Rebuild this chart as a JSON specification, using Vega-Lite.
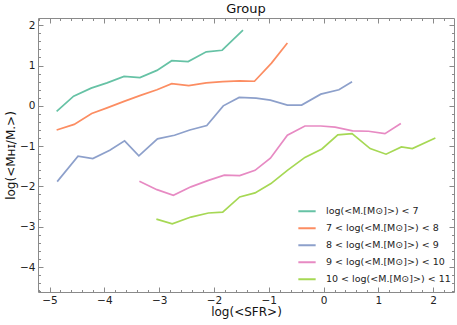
{
  "$schema": "https://vega.github.io/schema/vega-lite/v6.json",
  "width": 416,
  "height": 274,
  "autosize": {"type": "none"},
  "padding": {"left": 38, "top": 18, "right": 3, "bottom": 33},
  "background": "white",
  "config": {
    "view": {"stroke": "#8a8a8a", "strokeWidth": 1},
    "font": "DejaVu Sans",
    "axis": {"grid": false, "domain": false, "tickColor": "#8a8a8a", "labelColor": "#222", "labelFont": "DejaVu Sans", "labelFontSize": 10.5, "titleFont": "DejaVu Sans", "titleFontSize": 12, "titleFontWeight": "normal", "titleColor": "#111", "labelOverlap": false, "labelFlush": false}
  },
  "title": {"text": "Group", "fontSize": 13, "fontWeight": "normal", "font": "DejaVu Sans", "color": "#111", "offset": 2},
  "data": {"values": [
    {"s": "a", "x": -4.87, "y": -0.14}, {"s": "a", "x": -4.56, "y": 0.24}, {"s": "a", "x": -4.24, "y": 0.44}, {"s": "a", "x": -3.95, "y": 0.57}, {"s": "a", "x": -3.64, "y": 0.73}, {"s": "a", "x": -3.35, "y": 0.70}, {"s": "a", "x": -3.04, "y": 0.88}, {"s": "a", "x": -2.77, "y": 1.12}, {"s": "a", "x": -2.47, "y": 1.10}, {"s": "a", "x": -2.14, "y": 1.34}, {"s": "a", "x": -1.85, "y": 1.38}, {"s": "a", "x": -1.47, "y": 1.88},
    {"s": "b", "x": -4.87, "y": -0.60}, {"s": "b", "x": -4.55, "y": -0.46}, {"s": "b", "x": -4.23, "y": -0.19}, {"s": "b", "x": -3.95, "y": -0.05}, {"s": "b", "x": -3.64, "y": 0.11}, {"s": "b", "x": -3.34, "y": 0.26}, {"s": "b", "x": -3.04, "y": 0.40}, {"s": "b", "x": -2.77, "y": 0.55}, {"s": "b", "x": -2.46, "y": 0.50}, {"s": "b", "x": -2.14, "y": 0.57}, {"s": "b", "x": -1.84, "y": 0.60}, {"s": "b", "x": -1.53, "y": 0.62}, {"s": "b", "x": -1.26, "y": 0.61}, {"s": "b", "x": -0.95, "y": 1.06}, {"s": "b", "x": -0.66, "y": 1.56},
    {"s": "c", "x": -4.86, "y": -1.88}, {"s": "c", "x": -4.48, "y": -1.25}, {"s": "c", "x": -4.21, "y": -1.31}, {"s": "c", "x": -3.90, "y": -1.10}, {"s": "c", "x": -3.63, "y": -0.87}, {"s": "c", "x": -3.37, "y": -1.24}, {"s": "c", "x": -3.03, "y": -0.82}, {"s": "c", "x": -2.72, "y": -0.73}, {"s": "c", "x": -2.44, "y": -0.60}, {"s": "c", "x": -2.13, "y": -0.49}, {"s": "c", "x": -1.83, "y": 0.00}, {"s": "c", "x": -1.54, "y": 0.21}, {"s": "c", "x": -1.23, "y": 0.19}, {"s": "c", "x": -0.97, "y": 0.14}, {"s": "c", "x": -0.66, "y": 0.02}, {"s": "c", "x": -0.40, "y": 0.02}, {"s": "c", "x": -0.05, "y": 0.29}, {"s": "c", "x": 0.28, "y": 0.40}, {"s": "c", "x": 0.52, "y": 0.60},
    {"s": "d", "x": -3.36, "y": -1.87}, {"s": "d", "x": -3.04, "y": -2.08}, {"s": "d", "x": -2.74, "y": -2.22}, {"s": "d", "x": -2.42, "y": -2.01}, {"s": "d", "x": -2.10, "y": -1.85}, {"s": "d", "x": -1.81, "y": -1.72}, {"s": "d", "x": -1.53, "y": -1.73}, {"s": "d", "x": -1.25, "y": -1.60}, {"s": "d", "x": -0.97, "y": -1.30}, {"s": "d", "x": -0.66, "y": -0.73}, {"s": "d", "x": -0.34, "y": -0.50}, {"s": "d", "x": -0.05, "y": -0.50}, {"s": "d", "x": 0.21, "y": -0.53}, {"s": "d", "x": 0.53, "y": -0.62}, {"s": "d", "x": 0.82, "y": -0.63}, {"s": "d", "x": 1.12, "y": -0.69}, {"s": "d", "x": 1.41, "y": -0.44},
    {"s": "e", "x": -3.05, "y": -2.81}, {"s": "e", "x": -2.76, "y": -2.93}, {"s": "e", "x": -2.42, "y": -2.76}, {"s": "e", "x": -2.10, "y": -2.66}, {"s": "e", "x": -1.84, "y": -2.64}, {"s": "e", "x": -1.53, "y": -2.26}, {"s": "e", "x": -1.25, "y": -2.16}, {"s": "e", "x": -0.96, "y": -1.93}, {"s": "e", "x": -0.66, "y": -1.60}, {"s": "e", "x": -0.34, "y": -1.28}, {"s": "e", "x": -0.03, "y": -1.07}, {"s": "e", "x": 0.26, "y": -0.72}, {"s": "e", "x": 0.52, "y": -0.69}, {"s": "e", "x": 0.85, "y": -1.06}, {"s": "e", "x": 1.14, "y": -1.20}, {"s": "e", "x": 1.42, "y": -1.02}, {"s": "e", "x": 1.62, "y": -1.06}, {"s": "e", "x": 2.04, "y": -0.80}
  ]},
  "layer": [
    {
      "mark": {"type": "line", "strokeWidth": 1.7},
      "encoding": {
        "x": {"field": "x", "type": "quantitative", "scale": {"domain": [-5.21, 2.38], "nice": false, "zero": false},
          "axis": {"orient": "bottom", "title": "log(<SFR>)", "titlePadding": 1, "values": [-5, -4, -3, -2, -1, 0, 1, 2], "tickSize": -5, "labelPadding": 8}},
        "y": {"field": "y", "type": "quantitative", "scale": {"domain": [-4.62, 2.18], "nice": false, "zero": false},
          "axis": {"orient": "left", "title": "log(<Mʜɪ/M.>)", "titlePadding": 2, "values": [-4, -3, -2, -1, 0, 1, 2], "tickSize": -5, "labelPadding": 8}},
        "color": {"field": "s", "type": "nominal",
          "scale": {"domain": ["a", "b", "c", "d", "e"], "range": ["#66c2a5", "#fc8d62", "#8da0cb", "#e78ac3", "#a6d854"]},
          "legend": {"orient": "none", "legendX": 259, "legendY": 185, "title": null,
            "symbolType": "stroke", "symbolSize": 300, "symbolStrokeWidth": 2, "labelFontSize": 9.5, "labelFont": "DejaVu Sans", "labelColor": "#222", "labelOffset": 9, "labelLimit": 300, "clipHeight": 16.5, "rowPadding": 0,
            "labelExpr": "datum.value == 'a' ? ' log(<M.[M⊙]>) < 7' : datum.value == 'b' ? '7 < log(<M.[M⊙]>) < 8' : datum.value == 'c' ? '8 < log(<M.[M⊙]>) < 9' : datum.value == 'd' ? '9 < log(<M.[M⊙]>) < 10' : '10 < log(<M.[M⊙]>) < 11'"}}
      }
    },
    {
      "mark": {"type": "line", "strokeOpacity": 0},
      "encoding": {
        "x": {"field": "x", "type": "quantitative", "axis": {"orient": "top", "title": null, "labels": false, "values": [-5, -4, -3, -2, -1, 0, 1, 2], "tickSize": -5}},
        "y": {"field": "y", "type": "quantitative", "axis": {"orient": "right", "title": null, "labels": false, "values": [-4, -3, -2, -1, 0, 1, 2], "tickSize": -5}},
        "detail": {"field": "s", "type": "nominal"}
      }
    },
    {
      "mark": {"type": "line", "strokeOpacity": 0},
      "encoding": {
        "x": {"field": "x", "type": "quantitative", "axis": {"orient": "bottom", "title": null, "labels": false, "values": [-5.2,-4.8,-4.6,-4.4,-4.2,-3.8,-3.6,-3.4,-3.2,-2.8,-2.6,-2.4,-2.2,-1.8,-1.6,-1.4,-1.2,-0.8,-0.6,-0.4,-0.2,0.2,0.4,0.6,0.8,1.2,1.4,1.6,1.8,2.2], "tickSize": -2.5}},
        "y": {"field": "y", "type": "quantitative", "axis": {"orient": "left", "title": null, "labels": false, "values": [-4.6,-4.4,-4.2,-3.8,-3.6,-3.4,-3.2,-2.8,-2.6,-2.4,-2.2,-1.8,-1.6,-1.4,-1.2,-0.8,-0.6,-0.4,-0.2,0.2,0.4,0.6,0.8,1.2,1.4,1.6,1.8], "tickSize": -2.5}},
        "detail": {"field": "s", "type": "nominal"}
      }
    },
    {
      "mark": {"type": "line", "strokeOpacity": 0},
      "encoding": {
        "x": {"field": "x", "type": "quantitative", "axis": {"orient": "top", "title": null, "labels": false, "values": [-5.2,-4.8,-4.6,-4.4,-4.2,-3.8,-3.6,-3.4,-3.2,-2.8,-2.6,-2.4,-2.2,-1.8,-1.6,-1.4,-1.2,-0.8,-0.6,-0.4,-0.2,0.2,0.4,0.6,0.8,1.2,1.4,1.6,1.8,2.2], "tickSize": -2.5}},
        "y": {"field": "y", "type": "quantitative", "axis": {"orient": "right", "title": null, "labels": false, "values": [-4.6,-4.4,-4.2,-3.8,-3.6,-3.4,-3.2,-2.8,-2.6,-2.4,-2.2,-1.8,-1.6,-1.4,-1.2,-0.8,-0.6,-0.4,-0.2,0.2,0.4,0.6,0.8,1.2,1.4,1.6,1.8], "tickSize": -2.5}},
        "detail": {"field": "s", "type": "nominal"}
      }
    }
  ],
  "resolve": {"axis": {"x": "independent", "y": "independent"}}
}
